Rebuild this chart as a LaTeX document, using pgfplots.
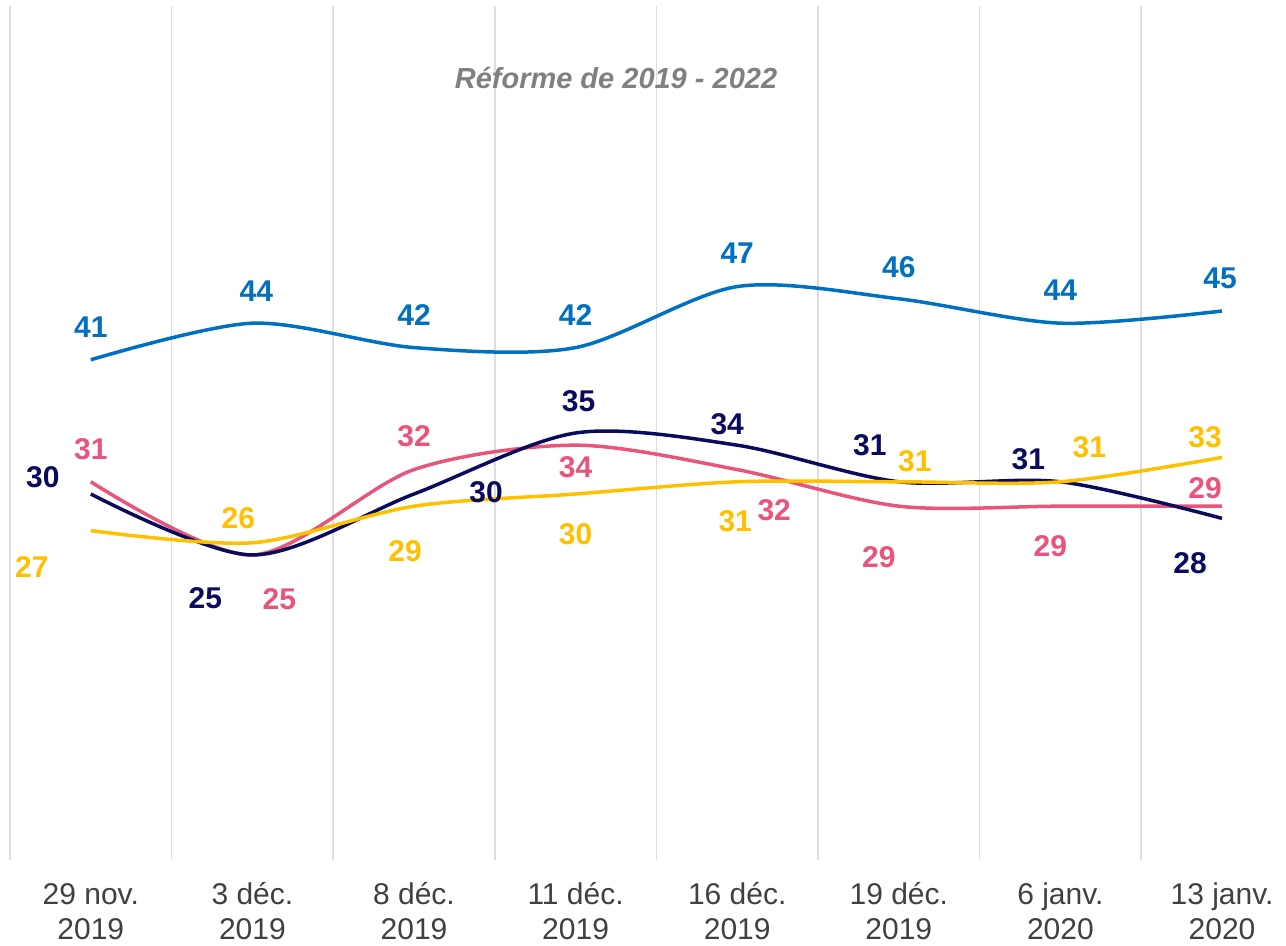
\documentclass[border=0pt]{standalone}
\usepackage{pgfplots}
\pgfplotsset{compat=1.18}
\usepackage{pgfplotstable}
\usepackage{fontspec}
\setmainfont{Liberation Sans}

\definecolor{cblue}{HTML}{0070C0}
\definecolor{cnavy}{HTML}{0B0B5E}
\definecolor{cpink}{HTML}{E9547A}
\definecolor{cyellow}{HTML}{FFC000}
\definecolor{cgrid}{HTML}{DDDDDD}
\definecolor{ctick}{HTML}{404040}
\definecolor{ctitle}{HTML}{808080}

% x y dx dy  (dx, dy = label offset in pt)
\pgfplotstableread{
x y dx dy
0 41 0 16.5
1 44 2 16
2 42 0 16.5
3 42 0 16.5
4 47 0 16.5
5 46 0 16
6 44 0 16.5
7 45 -1 16.5
}\blue
\pgfplotstableread{
x y dx dy
0 31 0 16.5
1 25 13.5 -22
2 32 0 16.5
3 34 0 -11
4 32 18.5 -20.5
5 29 -10 -25.5
6 29 -5 -20
7 29 -8.5 9
}\pink
\pgfplotstableread{
x y dx dy
0 30 -24 8.5
1 25 -23.5 -21.5
2 30 36 1
3 35 1.5 16
4 34 -5 10.5
5 31 -14.5 18.5
6 31 -16 11.5
7 28 -16 -22.5
}\navy
\pgfplotstableread{
x y dx dy
0 27 -29.5 -18
1 26 -7 12.5
2 29 -4.5 -22.5
3 30 0 -20
4 31 -1 -19.5
5 31 8 10.5
6 31 14.5 17.5
7 33 -8.5 10
}\yellow

\begin{document}
\begin{tikzpicture}
\begin{axis}[
    width=638pt, height=427pt, scale only axis,
    xmin=-0.5, xmax=7.396, ymin=0, ymax=70,
    axis line style={draw=none},
    ytick=\empty,
    xtick={0,...,7},
    xticklabels={{29 nov.\\2019},{3 déc.\\2019},{8 déc.\\2019},{11 déc.\\2019},
                 {16 déc.\\2019},{19 déc.\\2019},{6 janv.\\2020},{13 janv.\\2020}},
    typeset ticklabels with strut,
    xticklabel style={align=center, font=\fontsize{15}{17.5}\selectfont, text=ctick, yshift=-6.5pt},
    major tick length=0pt,
    minor xtick={-0.5,0.5,...,6.5},
    minor tick length=0pt,
    xminorgrids=true,
    minor grid style={cgrid, line width=0.8pt},
    clip=false,
    /pgf/number format/assume math mode=true,
    nodes near coords,
    visualization depends on={\thisrow{dx} \as \dx},
    visualization depends on={\thisrow{dy} \as \dy},
    every node near coord/.style={font=\fontsize{15}{17}\selectfont\bfseries, anchor=center,
        xshift=\dx pt, yshift=\dy pt},
    every axis plot/.append style={line width=1.75pt, smooth, no markers},
]
\addplot[cblue, every node near coord/.append style={text=cblue}] table[x=x,y=y] {\blue};
\addplot[cpink, every node near coord/.append style={text=cpink}] table[x=x,y=y] {\pink};
\addplot[cnavy, every node near coord/.append style={text=cnavy}] table[x=x,y=y] {\navy};
\addplot[cyellow, every node near coord/.append style={text=cyellow}] table[x=x,y=y] {\yellow};
\node[font=\fontsize{14.5}{16}\selectfont\bfseries\itshape, text=ctitle] at (axis cs:3.25,64.1) {Réforme de 2019 - 2022};
\coordinate (sw) at (rel axis cs:0,0);
\coordinate (ne) at (rel axis cs:1,1);
\end{axis}
\pgfresetboundingbox
\useasboundingbox ([shift={(-5pt,-43pt)}]sw) rectangle ([shift={(0pt,3pt)}]ne);
\end{tikzpicture}
\end{document}
